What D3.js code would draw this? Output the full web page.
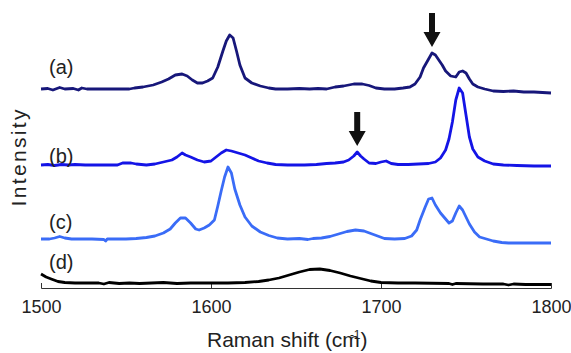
<!DOCTYPE html>
<html>
<head>
<meta charset="utf-8">
<script src="https://cdn.jsdelivr.net/npm/d3@7"></script>
<style>
  body { margin: 0; background: #fff; }
  text { font-family: Arial, "Liberation Sans", sans-serif; fill: #222; }
</style>
</head>
<body>
<div id="chart"></div>
<script>
// spectra: [wavenumber, intensity above own baseline]
const specA = [[1500,0],[1504,0.05],[1507,-0.1],[1511,0.15],[1514,0],[1519,0.05],[1522,-0.1],[1524,0.1],[1527,0],[1540,0],[1552,0],[1555,0.1],[1560,0.2],[1566,0.4],[1571,0.7],[1575,1.0],[1579,1.4],[1583,1.5],[1586,1.3],[1589,0.9],[1592,0.6],[1595,0.6],[1598,0.8],[1601,1.1],[1604,2.2],[1607,3.8],[1609,4.8],[1611,5.4],[1613,5.1],[1615,3.8],[1617,2.4],[1620,1.1],[1624,0.6],[1629,0.3],[1634,0.1],[1638,0],[1645,0],[1652,0.05],[1658,0],[1663,0.05],[1668,0],[1673,0.2],[1678,0.3],[1684,0.5],[1689,0.5],[1693,0.35],[1697,0.1],[1702,0],[1708,0],[1713,0.1],[1717,0.2],[1720,0.5],[1723,1.2],[1725,2.1],[1728,3.0],[1730,3.6],[1732,3.4],[1734,2.9],[1736,2.4],[1738,1.8],[1741,1.3],[1744,1.2],[1746,1.7],[1748,1.8],[1750,1.6],[1752,1.0],[1754,0.5],[1757,0.2],[1761,0],[1766,-0.2],[1772,-0.25],[1778,-0.2],[1784,-0.3],[1790,-0.3],[1795,-0.35],[1800,-0.4]];
const specB = [[1500,0],[1504,0.05],[1508,-0.05],[1512,0.05],[1516,0],[1520,0.05],[1526,0],[1535,0],[1545,0],[1548,0.2],[1553,0.2],[1556,0.1],[1562,0],[1567,0.1],[1572,0.3],[1577,0.5],[1580,0.8],[1583,1.2],[1585,1.0],[1588,0.8],[1592,0.5],[1596,0.3],[1600,0.4],[1603,0.8],[1606,1.2],[1609,1.5],[1612,1.4],[1616,1.2],[1620,1.0],[1624,0.7],[1628,0.4],[1633,0.2],[1638,0.05],[1645,0],[1655,0],[1662,0.05],[1668,0.15],[1673,0.2],[1678,0.3],[1681,0.5],[1684,0.9],[1686,1.3],[1688,0.9],[1690,0.6],[1693,0.2],[1697,0.15],[1700,0.3],[1703,0.4],[1706,0.15],[1710,0.05],[1716,0.05],[1722,0.1],[1728,0.15],[1732,0.3],[1735,0.7],[1738,1.5],[1740,2.6],[1742,4.3],[1744,6.5],[1746,7.7],[1748,7.2],[1750,5.0],[1752,2.8],[1754,1.6],[1757,0.8],[1761,0.4],[1766,0.1],[1772,0],[1780,-0.05],[1790,-0.1],[1800,-0.1]];
const specC = [[1500,0],[1505,0],[1508,0.1],[1511,0.25],[1514,0.1],[1518,0],[1530,0],[1537,-0.05],[1538,-0.2],[1539,0],[1550,0],[1556,0.05],[1562,0.15],[1567,0.3],[1572,0.6],[1576,1.0],[1579,1.6],[1582,2.1],[1585,2.1],[1588,1.6],[1591,1.0],[1593,0.9],[1596,1.1],[1599,1.4],[1602,1.9],[1604,3.3],[1606,4.8],[1608,6.2],[1610,7.2],[1612,6.6],[1614,5.0],[1617,3.4],[1620,2.2],[1624,1.3],[1629,0.7],[1634,0.35],[1639,0.1],[1645,0],[1652,0.05],[1657,-0.05],[1660,0.05],[1665,0.1],[1670,0.25],[1675,0.5],[1680,0.75],[1685,0.9],[1690,0.8],[1694,0.55],[1698,0.3],[1702,0.05],[1708,0],[1714,0.05],[1718,0.3],[1721,0.9],[1723,1.9],[1726,3.2],[1728,4.0],[1730,4.1],[1732,3.4],[1735,2.6],[1738,2.0],[1740,1.6],[1742,1.8],[1744,2.6],[1746,3.3],[1748,2.9],[1750,2.2],[1752,1.5],[1755,0.7],[1758,0.2],[1762,0],[1766,-0.2],[1771,-0.35],[1775,-0.4],[1800,-0.4]];
const specD = [[1500,0.9],[1503,0.6],[1506,0.4],[1510,0.15],[1514,0.05],[1520,0],[1534,0],[1537,-0.1],[1540,0.05],[1546,-0.05],[1552,0],[1558,-0.05],[1565,0],[1572,0.05],[1580,-0.05],[1588,0],[1600,0],[1610,0],[1620,0.05],[1628,0.15],[1634,0.3],[1640,0.5],[1646,0.8],[1652,1.1],[1658,1.35],[1664,1.4],[1670,1.25],[1676,1.0],[1682,0.7],[1688,0.45],[1694,0.2],[1700,0.05],[1710,0],[1720,0],[1740,-0.05],[1742,-0.15],[1744,-0.05],[1760,-0.1],[1772,-0.1],[1775,-0.2],[1778,-0.1],[1785,-0.15],[1800,-0.15]];

const labels = ["(a)", "(b)", "(c)", "(d)"];
const offsets = [19.9, 12.3, 4.9, 0.5];
const colors = ["#17177a", "#1414e6", "#3a6cf7", "#000000"];
const xTicks = [1500, 1600, 1700, 1800];
// arrows: [series index, wavenumber of marked band]
const arrows = [[0, 1730], [1, 1686]];

const W = 571, H = 353;
const margin = {top: 18, right: 20, bottom: 65, left: 41};

const svg = d3.select("#chart").append("svg")
  .attr("width", W)
  .attr("height", H);

const x = d3.scaleLinear().domain([1500, 1800]).range([margin.left, W - margin.right]);
const y = d3.scaleLinear().domain([0, 27]).range([H - margin.bottom, margin.top]);

const series = [specA, specB, specC, specD];

const line = d3.line()
  .x(d => x(d[0]))
  .y(d => y(d[1]));

// x axis, ticks pointing up
const xAxis = d3.axisBottom(x).tickValues(xTicks).tickSize(-5).tickPadding(12).tickFormat(d3.format("d"));
const gx = svg.append("g")
  .attr("transform", "translate(0," + y(0) + ")")
  .call(xAxis);
gx.select(".domain").attr("stroke", "#333").attr("stroke-width", 1);
gx.selectAll(".tick line").attr("stroke", "#333");
gx.selectAll(".tick text").attr("font-size", 18).attr("fill", "#222");

series.forEach((s, i) => {
  svg.append("path")
    .datum(s.map(d => [d[0], d[1] + offsets[i]]))
    .attr("fill", "none")
    .attr("stroke", colors[i])
    .attr("stroke-width", 2.8)
    .attr("stroke-linejoin", "round")
    .attr("d", line);
});

const labelY = [74, 163, 229, 269];
labels.forEach((l, i) => {
  svg.append("text")
    .attr("x", 49)
    .attr("y", labelY[i])
    .attr("font-size", 20)
    .text(l);
});

// arrows above the marked peaks
arrows.forEach(a => {
  const s = series[a[0]];
  const pt = s.find(d => d[0] === a[1]);
  const cx = x(pt[0]);
  const tip = y(pt[1] + offsets[a[0]]) - 6;
  const p = d3.path();
  p.moveTo(cx - 3, tip - 34);
  p.lineTo(cx + 3, tip - 34);
  p.lineTo(cx + 3, tip - 15);
  p.lineTo(cx + 8.5, tip - 15);
  p.lineTo(cx, tip);
  p.lineTo(cx - 8.5, tip - 15);
  p.lineTo(cx - 3, tip - 15);
  p.closePath();
  svg.append("path").attr("d", p.toString()).attr("fill", "#111");
});

// axis titles
const xt = svg.append("text")
  .attr("x", 207)
  .attr("y", 347)
  .attr("font-size", 21);
xt.append("tspan").text("Raman shift (cm");
xt.append("tspan").attr("dx", -10).attr("dy", -8).attr("font-size", 12).text("-1");
xt.append("tspan").attr("dy", 8).text(")");

svg.append("text")
  .attr("transform", "translate(26,158) rotate(-90)")
  .attr("text-anchor", "middle")
  .attr("font-size", 21)
  .attr("textLength", 97)
  .attr("lengthAdjust", "spacing")
  .text("Intensity");
</script>
</body>
</html>
